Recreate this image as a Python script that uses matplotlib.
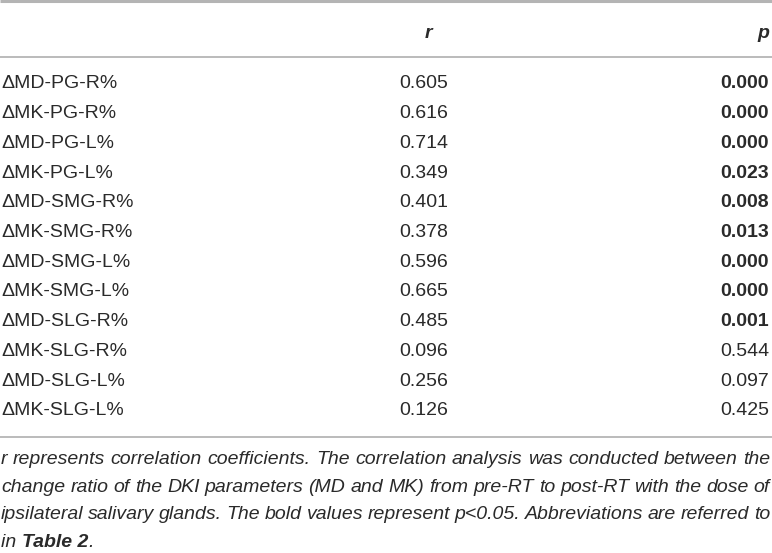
import matplotlib
matplotlib.use("Agg")
import matplotlib.pyplot as plt

# table data
row_labels = ["ΔMD-PG-R%", "ΔMK-PG-R%", "ΔMD-PG-L%", "ΔMK-PG-L%",
              "ΔMD-SMG-R%", "ΔMK-SMG-R%", "ΔMD-SMG-L%", "ΔMK-SMG-L%",
              "ΔMD-SLG-R%", "ΔMK-SLG-R%", "ΔMD-SLG-L%", "ΔMK-SLG-L%"]
r_values = ["0.605", "0.616", "0.714", "0.349", "0.401", "0.378",
            "0.596", "0.665", "0.485", "0.096", "0.256", "0.126"]
p_values = ["0.000", "0.000", "0.000", "0.023", "0.008", "0.013",
            "0.000", "0.000", "0.001", "0.544", "0.097", "0.425"]
p_bold = [True, True, True, True, True, True, True, True, True, False, False, False]

footnote_lines = [
    "r represents correlation coefficients. The correlation analysis was conducted between the",
    "change ratio of the DKI parameters (MD and MK) from pre-RT to post-RT with the dose of",
    "ipsilateral salivary glands. The bold values represent p<0.05. Abbreviations are referred to",
]

W, H = 772, 553
plt.rcParams['font.family'] = ['Liberation Sans', 'DejaVu Sans']
fig = plt.figure(figsize=(W / 100, H / 100), dpi=100)
ax = fig.add_axes([0, 0, 1, 1])
ax.set_xlim(0, W)
ax.set_ylim(H, 0)
ax.axis("off")

txt = "#2a2a2a"
line_c = "#a8a8a8"
fs = 14

# rules
ax.plot([0, W], [1.2, 1.2], color="#b4b4b4", lw=2.2, solid_capstyle="butt")
ax.plot([0, W], [57, 57], color=line_c, lw=1.1)

# header
ax.text(428, 33, "r", ha="center", va="center", fontsize=fs, style="italic",
        weight="bold", color=txt)
ax.text(769, 33, "p", ha="right", va="center", fontsize=fs, style="italic",
        weight="bold", color=txt)

y0, dy = 84, 29.7
for i, lab in enumerate(row_labels):
    y = y0 + i * dy
    ax.text(1, y, lab, ha="left", va="center", fontsize=fs, color=txt)
    ax.text(424, y, r_values[i], ha="center", va="center", fontsize=fs, color=txt)
    ax.text(769, y, p_values[i], ha="right", va="center", fontsize=fs, color=txt,
            weight="bold" if p_bold[i] else "normal")

y_bottom = y0 + (len(row_labels) - 1) * dy + 26
ax.plot([0, W], [y_bottom, y_bottom], color=line_c, lw=1.1)

# footnote, justified lines
fs2 = 14
fy0, fdy = y_bottom + 23, 27.6
renderer = fig.canvas.get_renderer()
x_left, x_right = 1, 770
for j, line in enumerate(footnote_lines):
    y = fy0 + j * fdy
    words = line.split(" ")
    items = [ax.text(0, y, w, ha="left", va="center", fontsize=fs2,
                     style="italic", color=txt) for w in words]
    widths = [t.get_window_extent(renderer).width for t in items]
    gap = (x_right - x_left - sum(widths)) / (len(words) - 1)
    x = x_left
    for t, wd in zip(items, widths):
        t.set_x(x)
        x += wd + gap

y = fy0 + 3 * fdy
t1 = ax.text(x_left, y, "in ", ha="left", va="center", fontsize=fs2,
             style="italic", color=txt)
w1 = t1.get_window_extent(renderer).width
t2 = ax.text(x_left + w1, y, "Table 2", ha="left", va="center", fontsize=fs2,
             style="italic", weight="bold", color=txt)
w2 = t2.get_window_extent(renderer).width
ax.text(x_left + w1 + w2, y, ".", ha="left", va="center", fontsize=fs2,
        style="italic", color=txt)

fig.savefig("out.png", dpi=100)
